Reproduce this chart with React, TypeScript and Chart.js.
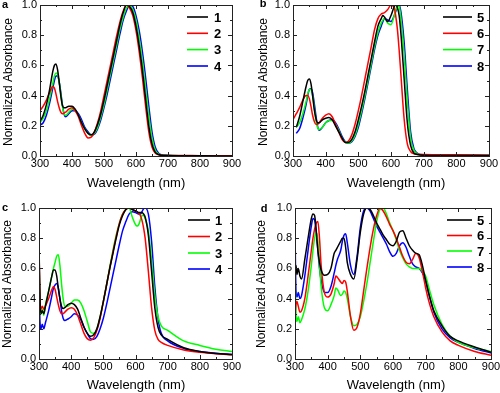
import React, { useEffect, useRef } from "react";
import { Chart, registerables } from "chart.js";
Chart.register(...registerables);

const COLORS = ["#000000", "#ff0000", "#00ff00", "#0000ff"];
const X_TITLE = "Wavelength (nm)";
const Y_TITLE = "Normalized Absorbance";

// ---------- Panel a (compounds 1-4) ----------
const GRID_A = [300,310,320,330,340,345,350,355,360,365,370,375,380,390,400,410,420,430,440,450,460,470,480,490,500,510,520,530,540,550,560,570,580,590,600,610,620,630,640,650,660,670,680,700,750,800,900];
const A1 = [.23,.27,.34,.44,.56,.60,.61,.57,.49,.40,.335,.32,.32,.33,.33,.31,.27,.22,.18,.15,.14,.16,.21,.28,.37,.47,.57,.67,.77,.87,.95,1.0,.99,.95,.86,.73,.57,.38,.20,.08,.025,.01,.005,.003,.002,.001,0];
const A2 = [.30,.33,.37,.42,.46,.45,.41,.36,.32,.29,.28,.285,.29,.31,.32,.30,.26,.20,.15,.12,.125,.16,.22,.30,.40,.50,.60,.70,.80,.89,.96,1.0,.98,.93,.83,.69,.52,.33,.16,.06,.02,.01,.005,.003,.003,.002,.002];
const A3 = [.22,.25,.30,.38,.48,.53,.55,.54,.49,.41,.33,.28,.27,.29,.31,.30,.27,.22,.18,.15,.135,.15,.19,.26,.34,.44,.54,.64,.74,.84,.92,.98,1.0,.97,.90,.78,.63,.45,.27,.12,.04,.015,.006,.003,.002,.001,0];
const A4 = [.205,.22,.27,.35,.45,.50,.53,.53,.49,.42,.34,.28,.26,.28,.30,.30,.28,.24,.19,.16,.14,.145,.18,.24,.32,.41,.51,.61,.71,.81,.90,.96,1.0,.99,.93,.83,.69,.52,.33,.16,.06,.02,.008,.004,.002,.001,0];

// ---------- Panel b (compounds 5-8) ----------
const GRID_B = [300,310,320,330,340,345,350,355,360,365,370,375,380,390,400,410,420,430,440,450,460,470,480,490,500,510,520,530,540,550,560,570,575,580,590,600,610,615,620,625,630,640,650,660,670,680,700,800,900];
const B5 = [null,.19,.26,.36,.46,.50,.51,.48,.40,.31,.25,.22,.22,.24,.25,.255,.24,.20,.16,.12,.09,.09,.11,.16,.24,.33,.43,.54,.65,.76,.86,.91,.93,.92,.89,.93,.99,1.0,.98,.93,.82,.52,.22,.07,.02,.01,.005,.003,.003];
const B6 = [.24,.28,.32,.37,.40,.40,.38,.33,.27,.23,.21,.21,.22,.25,.27,.28,.26,.21,.16,.11,.09,.10,.14,.21,.30,.40,.51,.62,.73,.84,.91,.94,.945,.95,.97,1.0,.98,.92,.83,.70,.55,.25,.08,.03,.015,.012,.01,.008,.005];
const B7 = [null,.19,.22,.28,.36,.41,.44,.44,.40,.32,.24,.19,.175,.19,.22,.235,.235,.21,.17,.12,.09,.085,.10,.14,.21,.30,.40,.51,.62,.73,.82,.88,.90,.91,.88,.87,.93,.97,1.0,.99,.92,.68,.36,.12,.04,.015,.005,.003,.003];
const B8 = [null,.15,.18,.25,.34,.40,.44,.445,.42,.35,.27,.20,.17,.19,.22,.235,.24,.22,.18,.13,.095,.085,.095,.13,.19,.28,.38,.49,.60,.71,.80,.86,.89,.91,.90,.89,.93,.96,.99,1.0,.96,.76,.44,.16,.05,.02,.008,.004,.004];

// ---------- Panel c (films 1-4) ----------
const GRID_C = [300,303,306,310,315,320,330,340,345,350,355,360,365,370,375,380,390,400,410,420,430,440,450,460,470,480,490,500,510,520,530,540,550,560,570,580,590,600,605,610,615,620,625,630,640,650,660,670,680,700,750,800,850,900];
const C1 = [.77,.40,.30,.32,.30,.35,.45,.55,.59,.59,.55,.47,.40,.35,.335,.34,.36,.37,.36,.33,.27,.21,.17,.15,.16,.20,.28,.38,.49,.60,.70,.80,.89,.95,.99,1.0,.99,.98,.975,.97,.97,.97,.96,.94,.82,.58,.34,.21,.16,.13,.075,.05,.037,.03];
const C2 = [.73,.40,.33,.35,.33,.35,.40,.46,.48,.46,.41,.36,.32,.30,.30,.31,.33,.34,.33,.29,.23,.17,.135,.125,.14,.19,.27,.38,.49,.60,.71,.81,.90,.96,.99,1.0,.99,.98,.975,.965,.95,.92,.87,.80,.58,.34,.19,.13,.11,.09,.06,.045,.035,.028];
const C3 = [.68,.35,.30,.33,.29,.36,.45,.55,.60,.64,.68,.69,.62,.50,.40,.35,.35,.37,.39,.39,.37,.32,.25,.18,.17,.20,.28,.38,.49,.61,.72,.82,.90,.96,.99,1.0,.94,.89,.88,.89,.92,.95,.95,.93,.85,.66,.42,.28,.22,.19,.12,.09,.065,.05];
const C4 = [.57,.25,.20,.23,.20,.24,.32,.42,.47,.49,.50,.47,.40,.32,.27,.255,.265,.28,.30,.29,.26,.21,.17,.135,.13,.15,.20,.27,.36,.46,.56,.66,.76,.85,.91,.96,.975,.97,.965,.96,.96,.975,.995,1.0,.96,.78,.48,.27,.17,.12,.07,.05,.038,.03];

// ---------- Panel d (films 5-8) ----------
const GRID_D = [300,303,306,310,315,320,330,340,350,355,360,365,370,375,380,390,400,410,420,425,430,440,445,450,455,460,470,480,490,500,510,520,530,540,550,560,570,580,590,600,610,620,630,640,650,660,670,680,690,700,710,725,750,775,800,850,900];
const D5 = [.57,.62,.56,.60,.55,.53,.66,.80,.93,.96,.95,.85,.72,.64,.59,.555,.56,.60,.70,.72,.74,.78,.80,.80,.74,.64,.56,.53,.66,.84,.96,1.0,.99,.95,.90,.86,.82,.79,.76,.75,.78,.84,.85,.80,.75,.72,.70,.69,.62,.52,.43,.32,.22,.15,.12,.08,.045];
const D6 = [.28,.36,.38,.35,.31,.32,.40,.55,.72,.80,.86,.90,.91,.80,.62,.44,.41,.43,.50,.55,.54,.51,.50,.52,.51,.45,.28,.19,.21,.30,.45,.60,.74,.86,.95,1.0,.98,.94,.89,.85,.80,.74,.68,.64,.63,.66,.70,.67,.58,.47,.38,.28,.18,.12,.09,.05,.025];
const D7 = [.55,.30,.25,.28,.24,.26,.33,.45,.62,.72,.80,.84,.78,.62,.48,.34,.32,.36,.42,.47,.46,.42,.43,.45,.44,.40,.28,.22,.23,.28,.38,.50,.64,.78,.91,.99,1.0,.96,.90,.85,.79,.72,.67,.63,.61,.60,.60,.60,.58,.55,.47,.36,.23,.15,.11,.075,.05];
const D8 = [.85,.45,.41,.44,.40,.42,.55,.72,.88,.93,.92,.84,.72,.60,.52,.44,.44,.48,.57,.62,.66,.72,.78,.82,.83,.77,.62,.56,.68,.87,.98,1.0,.98,.93,.88,.84,.80,.76,.71,.68,.70,.75,.77,.74,.68,.63,.61,.60,.57,.52,.43,.31,.20,.14,.11,.07,.04];

const LEGEND_A = ["1", "2", "3", "4"];
const LEGEND_B = ["5", "6", "7", "8"];

type Panel = {
  id: string;
  left: number; top: number; w: number; h: number;
  plot: { l: number; r: number; t: number; b: number };
  grid: number[];
  series: (number | null)[][];
  names: string[];
  legend: { x1: number; x2: number; tx: number; ys: number[] };
  labelPos: [number, number];
  xTitle: [number, number];
  yTitle: [number, number];
};

const PANELS: Panel[] = [
  { id: "a", left: 0, top: 0, w: 250, h: 196, plot: { l: 40, r: 232, t: 5, b: 156 }, grid: GRID_A, series: [A1, A2, A3, A4], names: LEGEND_A,
    legend: { x1: 187, x2: 208, tx: 214, ys: [17, 33.3, 49.6, 66] }, labelPos: [5, 5], xTitle: [136, 183], yTitle: [9, 82] },
  { id: "b", left: 250, top: 0, w: 250, h: 196, plot: { l: 43, r: 239, t: 5, b: 156 }, grid: GRID_B, series: [B5, B6, B7, B8], names: LEGEND_B,
    legend: { x1: 193, x2: 222, tx: 227, ys: [17, 33.3, 49.6, 66] }, labelPos: [13, 4], xTitle: [146, 183], yTitle: [14, 82] },
  { id: "c", left: 0, top: 196, w: 250, h: 197, plot: { l: 39, r: 232, t: 12, b: 163 }, grid: GRID_C, series: [C1, C2, C3, C4], names: LEGEND_A,
    legend: { x1: 188, x2: 210, tx: 215, ys: [24, 40.5, 57, 73] }, labelPos: [5, 12], xTitle: [136, 189], yTitle: [8, 88] },
  { id: "d", left: 250, top: 196, w: 250, h: 197, plot: { l: 45, r: 241, t: 12, b: 163 }, grid: GRID_D, series: [D5, D6, D7, D8], names: LEGEND_B,
    legend: { x1: 197, x2: 222, tx: 227, ys: [24, 39.5, 55, 71] }, labelPos: [14, 13], xTitle: [146, 189], yTitle: [12, 88] },
];

const FONT = "'Liberation Sans', Arial, Helvetica, sans-serif";

function makeChart(canvas: HTMLCanvasElement, p: Panel) {
  const framePlugin = {
    id: "frame_" + p.id,
    afterDraw(chart: any) {
      const ctx = chart.ctx as CanvasRenderingContext2D;
      const xs = chart.scales.x;
      const ys = chart.scales.y;
      const L = xs.left, R = xs.right, T = ys.top, B = ys.bottom;
      ctx.save();
      ctx.strokeStyle = "#222";
      ctx.lineWidth = 1;
      ctx.strokeRect(Math.round(L) + 0.5, Math.round(T) + 0.5, Math.round(R - L), Math.round(B - T));
      ctx.beginPath();
      for (let v = 300; v <= 900; v += 50) {
        const px = Math.round(xs.getPixelForValue(v)) + 0.5;
        const len = v % 100 === 0 ? 4 : 2;
        ctx.moveTo(px, B); ctx.lineTo(px, B - len);
        ctx.moveTo(px, T); ctx.lineTo(px, T + len);
      }
      for (let k = 0; k <= 10; k++) {
        const v = k / 10;
        const py = Math.round(ys.getPixelForValue(v)) + 0.5;
        const len = k % 2 === 0 ? 4 : 2;
        ctx.moveTo(L, py); ctx.lineTo(L + len, py);
        ctx.moveTo(R, py); ctx.lineTo(R - len, py);
      }
      ctx.stroke();

      // legend
      p.names.forEach((n, i) => {
        const y = p.legend.ys[i];
        ctx.strokeStyle = COLORS[i];
        ctx.lineWidth = 1.6;
        ctx.beginPath();
        ctx.moveTo(p.legend.x1, y); ctx.lineTo(p.legend.x2, y);
        ctx.stroke();
        ctx.fillStyle = "#000";
        ctx.font = "bold 13px " + FONT;
        ctx.textAlign = "left";
        ctx.textBaseline = "middle";
        ctx.fillText(n, p.legend.tx, y + 1);
      });

      // panel label
      ctx.fillStyle = "#000";
      ctx.font = "bold 11px " + FONT;
      ctx.textAlign = "center";
      ctx.textBaseline = "middle";
      ctx.fillText(p.id, p.labelPos[0], p.labelPos[1]);

      // axis titles
      ctx.font = "13px " + FONT;
      ctx.fillText(X_TITLE, p.xTitle[0], p.xTitle[1]);
      ctx.save();
      ctx.translate(p.yTitle[0], p.yTitle[1]);
      ctx.rotate(-Math.PI / 2);
      ctx.font = "12px " + FONT;
      ctx.fillText(Y_TITLE, 0, 0);
      ctx.restore();
      ctx.restore();
    },
  };

  return new Chart(canvas, {
    type: "line",
    data: {
      datasets: p.series.map((s, i) => ({
        label: p.names[i],
        data: p.grid.map((x, j) => ({ x, y: s[j] as any })),
        borderColor: COLORS[i],
        backgroundColor: COLORS[i],
        borderWidth: 1.5,
        pointRadius: 0,
        cubicInterpolationMode: "monotone" as const,
        fill: false,
      })),
    },
    options: {
      responsive: false,
      animation: false,
      devicePixelRatio: 1,
      layout: { padding: { top: p.plot.t, right: p.w - p.plot.r, left: 0, bottom: 0 } },
      plugins: { legend: { display: false }, tooltip: { enabled: false } },
      scales: {
        x: {
          type: "linear",
          min: 300,
          max: 900,
          grid: { display: false, drawTicks: false, tickLength: 0 },
          border: { display: false },
          ticks: { stepSize: 100, color: "#000", font: { size: 11, family: FONT }, padding: 1, maxRotation: 0 },
          afterFit: (s: any) => { s.height = p.h - p.plot.b; s.paddingLeft = 0; s.paddingRight = 0; },
        },
        y: {
          min: 0,
          max: 1,
          grid: { display: false, drawTicks: false, tickLength: 0 },
          border: { display: false },
          ticks: { stepSize: 0.2, color: "#000", font: { size: 11, family: FONT }, padding: 3, callback: (v: any) => Number(v).toFixed(1) },
          afterFit: (s: any) => { s.width = p.plot.l; s.paddingTop = 0; s.paddingBottom = 0; },
        },
      },
    },
    plugins: [framePlugin],
  });
}

function PanelChart({ p }: { p: Panel }) {
  const ref = useRef<HTMLCanvasElement | null>(null);
  useEffect(() => {
    if (!ref.current) return;
    const chart = makeChart(ref.current, p);
    return () => chart.destroy();
  }, [p]);
  return (
    <canvas
      ref={ref}
      width={p.w}
      height={p.h}
      style={{ position: "absolute", left: p.left, top: p.top, width: p.w, height: p.h }}
    />
  );
}

export default function App() {
  return (
    <div style={{ position: "absolute", left: 0, top: 0, width: 500, height: 393, background: "#fff", overflow: "hidden" }}>
      {PANELS.map((p) => (
        <PanelChart key={p.id} p={p} />
      ))}
    </div>
  );
}
